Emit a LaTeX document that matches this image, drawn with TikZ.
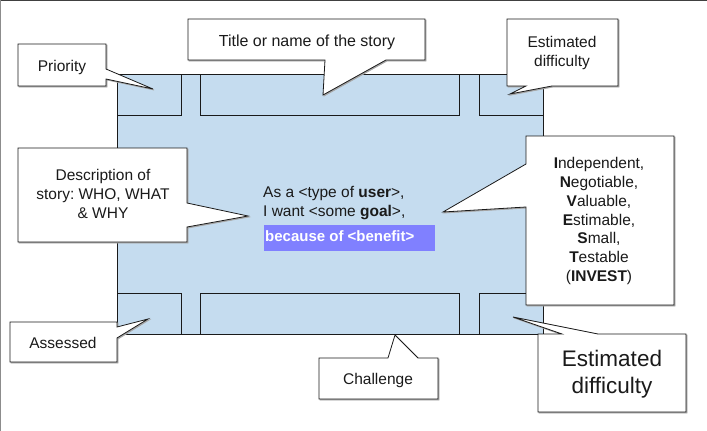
\documentclass[tikz,border=0pt]{standalone}
\usepackage{fontspec}
\setmainfont{Liberation Sans}
\frenchspacing
\definecolor{cardblue}{HTML}{C5DCEF}
\definecolor{hilite}{HTML}{8080FF}
\definecolor{ink}{HTML}{1A1A1A}
\tikzset{
  callout/.style={draw=ink, fill=white, line width=0.8pt, line join=miter,
    preaction={draw=black!35, fill=black!35, line width=0.8pt, transform canvas={shift={(1pt,-1pt)}}}},
  slot/.style={draw=ink, line width=0.8pt},
  lbl/.style={font=\fontsize{15.5}{18.8}\selectfont, text=ink, inner sep=0pt, align=center},
  biglbl/.style={font=\fontsize{22.5}{27}\selectfont, text=ink, inner sep=0pt, align=center},
}
\begin{document}
\begin{tikzpicture}[x=1pt,y=-1pt]
\useasboundingbox (0,0) rectangle (707,431);
\fill[white] (0,0) rectangle (707,431);
% frame
\draw[black!75, line width=1.2pt] (0,0.6) -- (707,0.6);
\draw[black!45, line width=1.2pt] (0.6,0) -- (0.6,431);
% card
\draw[slot, fill=cardblue] (117,74) rectangle (543,334);
\draw[slot] (117,74) rectangle (181,115);
\draw[slot] (200,74) rectangle (459,115);
\draw[slot] (479,74) rectangle (543,115);
\draw[slot] (117,293) rectangle (181,334);
\draw[slot] (200,293) rectangle (459,334);
\draw[slot] (479,293) rectangle (543,334);
% centre text
\node[lbl, anchor=west] (l1) at (263,193) {As a <type of \textbf{user}>,};
\node[lbl, anchor=west] (l2) at (263,213) {I want <some \textbf{goal}>,};
\fill[hilite] (264,225) rectangle (435,251);
\node[lbl, anchor=west, text=white, font=\fontsize{15}{18}\selectfont\bfseries] (l3) at (265,236) {because of <benefit>};
% callouts
\draw[callout] (18,44) -- (106,44) -- (106,69) -- (153,89) -- (106,79) -- (106,86) -- (18,86) -- cycle;
\node[lbl] (prio) at (62,67) {Priority};
\draw[callout] (188,19) -- (425,19) -- (425,60) -- (386,60) -- (323,95) -- (325,60) -- (188,60) -- cycle;
\node[lbl, font=\fontsize{16}{19}\selectfont] (title) at (307,42) {Title or name of the story};
\draw[callout] (507,19) -- (618,19) -- (618,86) -- (552,86) -- (510,94) -- (526,86) -- (507,86) -- cycle;
\node[lbl] (est1) at (562,53) {Estimated\\difficulty};
\draw[callout] (18,148) -- (187,148) -- (187,203) -- (248,216) -- (187,227) -- (187,242) -- (18,242) -- cycle;
\node[lbl] (desc) at (103,194) {Description of\\story: WHO, WHAT\\\& WHY};
\draw[callout] (526,136) -- (674,136) -- (674,305) -- (526,305) -- (526,207) -- (443,212) -- (526,164) -- cycle;
\node[lbl, font=\fontsize{15.5}{18.9}\selectfont] (invest) at (599,221) {\textbf{I}ndependent,\\\textbf{N}egotiable,\\\textbf{V}aluable,\\\textbf{E}stimable,\\\textbf{S}mall,\\\textbf{T}estable\\(\textbf{INVEST})};
\draw[callout] (10,322) -- (117,322) -- (117,327) -- (148,319) -- (117,338) -- (117,362) -- (10,362) -- cycle;
\node[lbl] (assessed) at (63,343) {Assessed};
\draw[callout] (319,358) -- (388,358) -- (395,335) -- (418,358) -- (438,358) -- (438,399) -- (319,399) -- cycle;
\node[lbl] (chal) at (378,380) {Challenge};
\draw[callout] (538,334) -- (562,334) -- (513,317) -- (598,334) -- (686,334) -- (686,412) -- (538,412) -- cycle;
\node[biglbl] (est2) at (612,374) {Estimated\\difficulty};
\end{tikzpicture}
\end{document}
